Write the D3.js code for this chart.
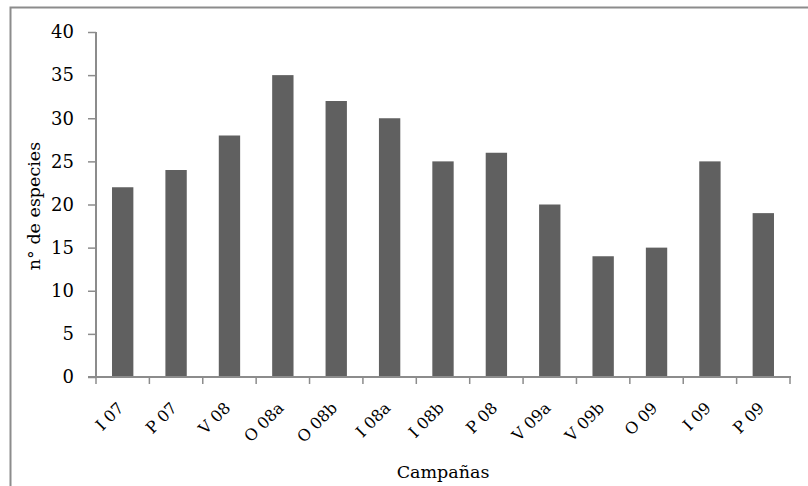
<!DOCTYPE html>
<html><head><meta charset="utf-8">
<script src="https://cdn.jsdelivr.net/npm/d3@7"></script>
<style>body{margin:0;background:#fff}svg{display:block}</style>
</head><body>
<script>
const categories = ["I 07","P 07","V 08","O 08a","O 08b","I 08a","I 08b","P 08","V 09a","V 09b","O 09","I 09","P 09"];
const values = [22,24,28,35,32,30,25,26,20,14,15,25,19];
const yTicks = [0,5,10,15,20,25,30,35,40];

(function(){
const W=808,H=486;
const svg=d3.select("body").append("svg").attr("width",W).attr("height",H);
const font="'DejaVu Serif', 'Liberation Serif', serif";
// frame
svg.append("path").attr("d",`M10.5,${H}V7.5H${W}`).attr("fill","none").attr("stroke","#8c8c8c").attr("stroke-width",2);

const pl=96,pr=790,pt=32,pb=377;
const x=d3.scaleBand().domain(categories).range([pl,pr]).paddingInner(0.6).paddingOuter(0.3);
const xb=d3.scaleBand().domain(categories).range([pl,pr]);
const y=d3.scaleLinear().domain([0,40]).range([pb,pt]);

svg.append("g").selectAll("rect").data(values).join("rect")
 .attr("x",(d,i)=>x(categories[i])).attr("width",x.bandwidth())
 .attr("y",d=>y(d)).attr("height",d=>pb-y(d))
 .attr("fill","#606060");

const axisColor="#8c8c8c";
const ya=svg.append("g").attr("transform",`translate(${pl},0)`)
 .call(d3.axisLeft(y).tickValues(yTicks).tickSize(8).tickPadding(14));
ya.select(".domain").attr("stroke",axisColor).attr("stroke-width",2).attr("d",`M0,${pt}V${pb}`);
ya.selectAll(".tick line").attr("stroke",axisColor).attr("stroke-width",1.5);
ya.selectAll("text").attr("font-family",font).attr("font-size",18).attr("fill","#000");

const boundaries=categories.map(c=>xb(c)).concat([pr]);
svg.append("line").attr("x1",pl-8).attr("x2",pr+1).attr("y1",pb).attr("y2",pb).attr("stroke",axisColor).attr("stroke-width",2);
svg.append("g").selectAll("line").data(boundaries).join("line")
 .attr("x1",d=>d).attr("x2",d=>d).attr("y1",pb).attr("y2",pb+7).attr("stroke",axisColor).attr("stroke-width",1.5);
svg.append("g").selectAll("text").data(categories).join("text")
 .attr("transform",d=>`translate(${xb(d)+xb.bandwidth()/2+2},${pb+32}) rotate(-45)`)
 .attr("text-anchor","end").attr("font-family",font).attr("font-size",16).attr("fill","#000").text(d=>d);

svg.append("text").attr("x",443).attr("y",478).attr("text-anchor","middle").attr("font-family",font).attr("font-size",17.5).text("Campañas");
svg.append("text").attr("transform",`translate(40,206) rotate(-90)`).attr("text-anchor","middle").attr("font-family",font).attr("font-size",17.5).text("n° de especies");
})();
</script>
</body></html>
